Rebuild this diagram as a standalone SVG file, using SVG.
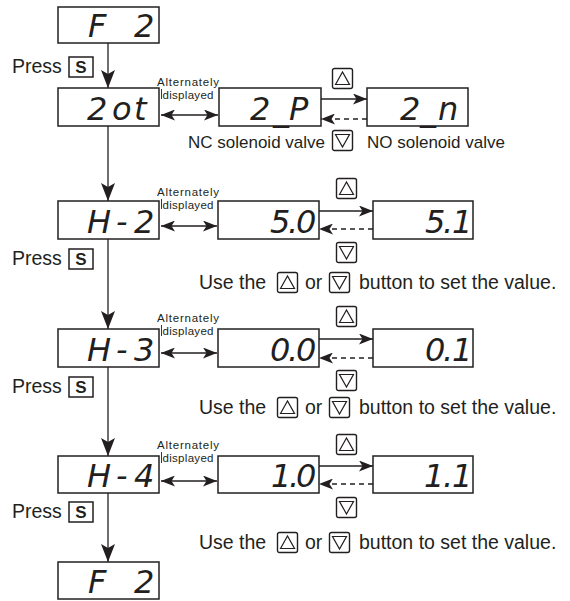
<svg xmlns="http://www.w3.org/2000/svg" xmlns:xlink="http://www.w3.org/1999/xlink" width="570" height="601" viewBox="0 0 570 601">
<style>
.box{fill:#fff;stroke:#231f20;stroke-width:1.5}
.seg{font-family:"DejaVu Sans",sans-serif;font-style:italic;font-size:32px;fill:#231f20}
.lbl{font-family:"Liberation Sans",Arial,sans-serif;font-size:19.5px;fill:#231f20}
.alt{font-family:"Liberation Sans",Arial,sans-serif;font-size:11.5px;fill:#231f20;text-anchor:middle}
.sol{font-family:"Liberation Sans",Arial,sans-serif;font-size:17px;fill:#231f20}
.sk{font-family:"Liberation Sans",Arial,sans-serif;font-weight:bold;font-size:17px;fill:#231f20;text-anchor:middle}
.skb{fill:#fff;stroke:#231f20;stroke-width:1.5}
.btn{fill:#fff;stroke:#231f20;stroke-width:1.4}
.tri{fill:none;stroke:#231f20;stroke-width:1.2}
.ln{fill:none;stroke:#231f20;stroke-width:1.3}
.dash{stroke-dasharray:5 4}
.tick{stroke:#231f20;stroke-width:0.9}
</style>
<defs>
<marker id="ahv" viewBox="0 0 18 14" refX="18" refY="7" markerWidth="18" markerHeight="14" orient="auto" markerUnits="userSpaceOnUse"><path d="M0,0 L18,7 L0,14 L4,7 Z" fill="#231f20"/></marker>
<marker id="ah" viewBox="0 0 14 11" refX="14" refY="5.5" markerWidth="14" markerHeight="11" orient="auto-start-reverse" markerUnits="userSpaceOnUse"><path d="M0,0 L14,5.5 L0,11 L3.5,5.5 Z" fill="#231f20"/></marker>
<g id="up"><rect class="btn" x="0.5" y="0.5" width="20" height="20" rx="2"/><polygon class="tri" points="3.5,16.5 10.5,4 17.5,16.5"/></g>
<g id="down"><rect class="btn" x="0.5" y="0.5" width="20" height="20" rx="2"/><polygon class="tri" points="3.5,4.5 17.5,4.5 10.5,17"/></g>
</defs>
<rect width="570" height="601" fill="#fff"/>

<g id="connectors">
<path class="ln" d="M108,43 V88" marker-end="url(#ahv)"/>
<path class="ln" d="M108,126 V201" marker-end="url(#ahv)"/>
<path class="ln" d="M108,239 V329" marker-end="url(#ahv)"/>
<path class="ln" d="M108,367 V456" marker-end="url(#ahv)"/>
<path class="ln" d="M108,493 V562" marker-end="url(#ahv)"/>
<path class="ln" d="M161,115 H218" marker-start="url(#ah)" marker-end="url(#ah)"/>
<path class="ln" d="M161,226 H217" marker-start="url(#ah)" marker-end="url(#ah)"/>
<path class="ln" d="M161,353 H217" marker-start="url(#ah)" marker-end="url(#ah)"/>
<path class="ln" d="M161,481 H217" marker-start="url(#ah)" marker-end="url(#ah)"/>
<path class="ln" d="M321,99 H367" marker-end="url(#ah)"/>
<path class="ln dash" d="M367,119 H321" marker-end="url(#ah)"/>
<path class="ln" d="M319,211 H373" marker-end="url(#ah)"/>
<path class="ln dash" d="M373,229 H319" marker-end="url(#ah)"/>
<path class="ln" d="M319,339 H373" marker-end="url(#ah)"/>
<path class="ln dash" d="M373,358 H319" marker-end="url(#ah)"/>
<path class="ln" d="M319,466 H373" marker-end="url(#ah)"/>
<path class="ln dash" d="M373,484 H319" marker-end="url(#ah)"/>
</g>

<g id="f2-top"><rect class="box" x="58" y="7" width="101" height="36"/><text class="seg" x="88 110 134" y="37">F 2</text></g>
<g id="press-1"><text class="lbl" x="12" y="73">Press</text><rect class="skb" x="69" y="57" width="24" height="20"/><text class="sk" x="81" y="73">S</text></g>

<g id="row1-2ot"><rect class="box" x="58" y="88" width="101" height="38"/><text class="seg" x="87 112 134" y="120">2ot</text></g>
<g id="row1-alt"><text class="alt" x="188" y="85.5" textLength="62" lengthAdjust="spacing">Alternately</text><text class="alt" x="188" y="98.5" textLength="51" lengthAdjust="spacing">displayed</text><line class="tick" x1="161.5" y1="89" x2="161.5" y2="99"/></g>
<g id="row1-2P"><rect class="box" x="219" y="88" width="102" height="38"/><text class="seg" x="250 273 289" y="120">2_P</text></g>
<g id="row1-2n"><rect class="box" x="367" y="88" width="101" height="38"/><text class="seg" x="400 420 438" y="120">2_n</text></g>
<g id="row1-up"><use xlink:href="#up" x="332" y="68"/></g>
<g id="row1-down"><use xlink:href="#down" x="332" y="130"/></g>
<g id="row1-labels"><text class="sol" x="188" y="148">NC solenoid valve</text><text class="sol" x="367" y="148">NO solenoid valve</text></g>
<g id="press-2"><text class="lbl" x="12" y="265">Press</text><rect class="skb" x="69" y="249" width="24" height="20"/><text class="sk" x="81" y="265">S</text></g>

<g id="row2-H2"><rect class="box" x="58" y="201" width="101" height="38"/><text class="seg" x="87 116 134" y="233">H-2</text></g>
<g id="row2-alt"><text class="alt" x="188" y="195.5" textLength="62" lengthAdjust="spacing">Alternately</text><text class="alt" x="188" y="208.5" textLength="51" lengthAdjust="spacing">displayed</text><line class="tick" x1="161.5" y1="199" x2="161.5" y2="209"/></g>
<g id="row2-50"><rect class="box" x="218" y="201" width="101" height="38"/><text class="seg" x="270 288 296" y="233">5.0</text></g>
<g id="row2-51"><rect class="box" x="373" y="201" width="100" height="38"/><text class="seg" x="425 443 452" y="233">5.1</text></g>
<g id="row2-up"><use xlink:href="#up" x="336" y="178"/></g>
<g id="row2-down"><use xlink:href="#down" x="336" y="242"/></g>
<g id="row2-hint"><text class="lbl" x="199" y="289">Use the</text><use xlink:href="#up" x="277" y="272"/><text class="lbl" x="305" y="289">or</text><use xlink:href="#down" x="329" y="272"/><text class="lbl" x="359" y="289">button to set the value.</text></g>
<g id="press-3"><text class="lbl" x="12" y="393">Press</text><rect class="skb" x="69" y="377" width="24" height="20"/><text class="sk" x="81" y="393">S</text></g>

<g id="row3-H3"><rect class="box" x="58" y="329" width="101" height="38"/><text class="seg" x="87 116 134" y="361">H-3</text></g>
<g id="row3-alt"><text class="alt" x="188" y="321.5" textLength="62" lengthAdjust="spacing">Alternately</text><text class="alt" x="188" y="334.5" textLength="51" lengthAdjust="spacing">displayed</text><line class="tick" x1="161.5" y1="325" x2="161.5" y2="336"/></g>
<g id="row3-00"><rect class="box" x="218" y="329" width="101" height="38"/><text class="seg" x="270 288 296" y="361">0.0</text></g>
<g id="row3-01"><rect class="box" x="373" y="329" width="100" height="38"/><text class="seg" x="425 443 452" y="361">0.1</text></g>
<g id="row3-up"><use xlink:href="#up" x="336" y="306"/></g>
<g id="row3-down"><use xlink:href="#down" x="336" y="370"/></g>
<g id="row3-hint"><text class="lbl" x="199" y="414">Use the</text><use xlink:href="#up" x="277" y="397"/><text class="lbl" x="305" y="414">or</text><use xlink:href="#down" x="329" y="397"/><text class="lbl" x="359" y="414">button to set the value.</text></g>
<g id="press-4"><text class="lbl" x="12" y="518">Press</text><rect class="skb" x="69" y="502" width="24" height="20"/><text class="sk" x="81" y="518">S</text></g>

<g id="row4-H4"><rect class="box" x="58" y="456" width="101" height="37"/><text class="seg" x="87 116 134" y="487">H-4</text></g>
<g id="row4-alt"><text class="alt" x="188" y="448.5" textLength="62" lengthAdjust="spacing">Alternately</text><text class="alt" x="188" y="461.5" textLength="51" lengthAdjust="spacing">displayed</text><line class="tick" x1="161.5" y1="452" x2="161.5" y2="463"/></g>
<g id="row4-10"><rect class="box" x="218" y="456" width="101" height="37"/><text class="seg" x="271 289 296" y="487">1.0</text></g>
<g id="row4-11"><rect class="box" x="373" y="456" width="100" height="37"/><text class="seg" x="424 443 452" y="487">1.1</text></g>
<g id="row4-up"><use xlink:href="#up" x="336" y="434"/></g>
<g id="row4-down"><use xlink:href="#down" x="336" y="497"/></g>
<g id="row4-hint"><text class="lbl" x="199" y="549">Use the</text><use xlink:href="#up" x="277" y="532"/><text class="lbl" x="305" y="549">or</text><use xlink:href="#down" x="329" y="532"/><text class="lbl" x="359" y="549">button to set the value.</text></g>

<g id="f2-bottom"><rect class="box" x="58" y="562" width="101" height="37"/><text class="seg" x="88 110 134" y="593">F 2</text></g>
</svg>
